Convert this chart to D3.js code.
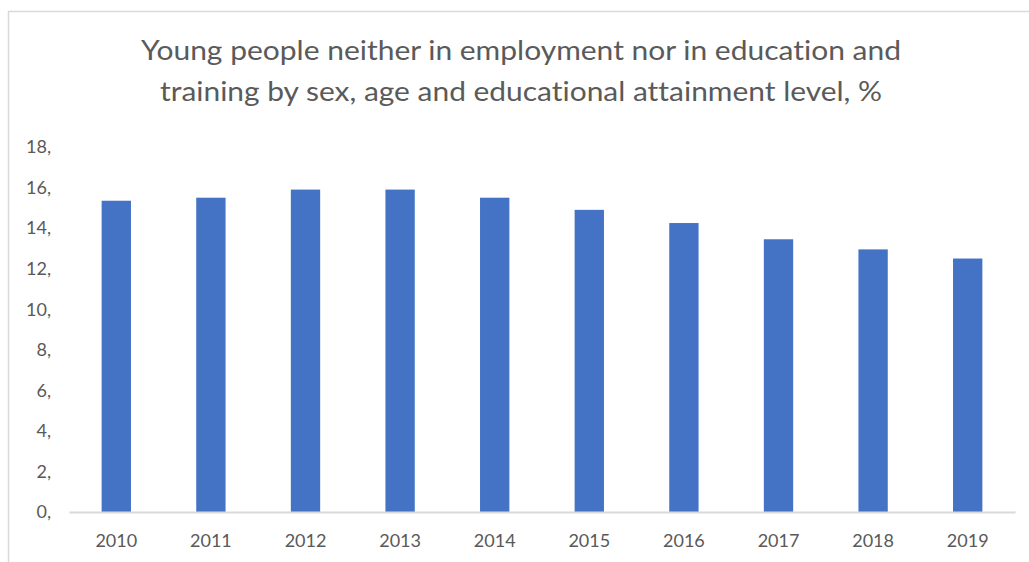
<!DOCTYPE html>
<html lang="en">
<head>
    <meta charset="UTF-8">
    <title>Young people neither in employment nor in education and training</title>
    <style>
        body { margin: 0; background: #fff; }
        .title { font-family: Lato, "Open Sans", sans-serif; font-weight: 400; font-size: 27px; fill: #5a5a5a; font-variant-ligatures: none; }
        .tick-label { font-family: Lato, "Open Sans", sans-serif; font-size: 18px; fill: #595959; }
    </style>
</head>
<body>
    <div id="chart"></div>
    <script src="https://d3js.org/d3.v7.min.js"></script>
    <script>
        const years = ["2010", "2011", "2012", "2013", "2014", "2015", "2016", "2017", "2018", "2019"];
        const values = [15.35, 15.5, 15.9, 15.9, 15.5, 14.9, 14.25, 13.45, 12.95, 12.5];
        const yTicks = [0, 2, 4, 6, 8, 10, 12, 14, 16, 18];
        const titleLines = [
            "Young people neither in employment nor in education and",
            "training by sex, age and educational attainment level, %"
        ];

        const W = 1029, H = 562;

        const svg = d3.select("#chart")
            .append("svg")
            .attr("width", W)
            .attr("height", H);

        // chart frame (cropped on the right and bottom)
        svg.append("rect")
            .attr("x", 8.5)
            .attr("y", 11.5)
            .attr("width", W + 20)
            .attr("height", H + 20)
            .attr("fill", "none")
            .attr("stroke", "#d9d9d9")
            .attr("stroke-width", 1.5);

        const x = d3.scaleBand()
            .domain(years)
            .range([69, 1015])
            .paddingInner(0.69)
            .paddingOuter(0.345);

        const y = d3.scaleLinear()
            .domain([0, 18])
            .range([512, 147]);

        // title
        svg.selectAll("text.title")
            .data(titleLines)
            .enter()
            .append("text")
            .attr("class", "title")
            .attr("x", 521)
            .attr("y", (d, i) => 60 + i * 41)
            .attr("text-anchor", "middle")
            .attr("textLength", (d, i) => i === 0 ? 760 : 722)
            .attr("lengthAdjust", "spacingAndGlyphs")
            .text(d => d);

        // y labels
        svg.selectAll("text.ylab")
            .data(yTicks)
            .enter()
            .append("text")
            .attr("class", "tick-label")
            .attr("x", 51)
            .attr("y", d => y(d))
            .attr("dy", "0.35em")
            .attr("text-anchor", "end")
            .text(d => d + ",");

        // bars
        svg.selectAll("rect.bar")
            .data(values)
            .enter()
            .append("rect")
            .attr("class", "bar")
            .attr("x", (d, i) => x(years[i]))
            .attr("y", d => y(d))
            .attr("width", x.bandwidth())
            .attr("height", d => y(0) - y(d))
            .attr("fill", "#4472c4");

        // x axis line
        const xAxis = svg.append("g")
            .attr("transform", `translate(0,${y(0)})`)
            .call(d3.axisBottom(x).tickSize(0).tickPadding(22));

        xAxis.select(".domain")
            .attr("stroke", "#d9d9d9")
            .attr("stroke-width", 2);

        xAxis.selectAll(".tick text")
            .attr("class", "tick-label")
            .attr("font-family", null)
            .attr("font-size", null)
            .attr("fill", null);
    </script>
</body>
</html>
